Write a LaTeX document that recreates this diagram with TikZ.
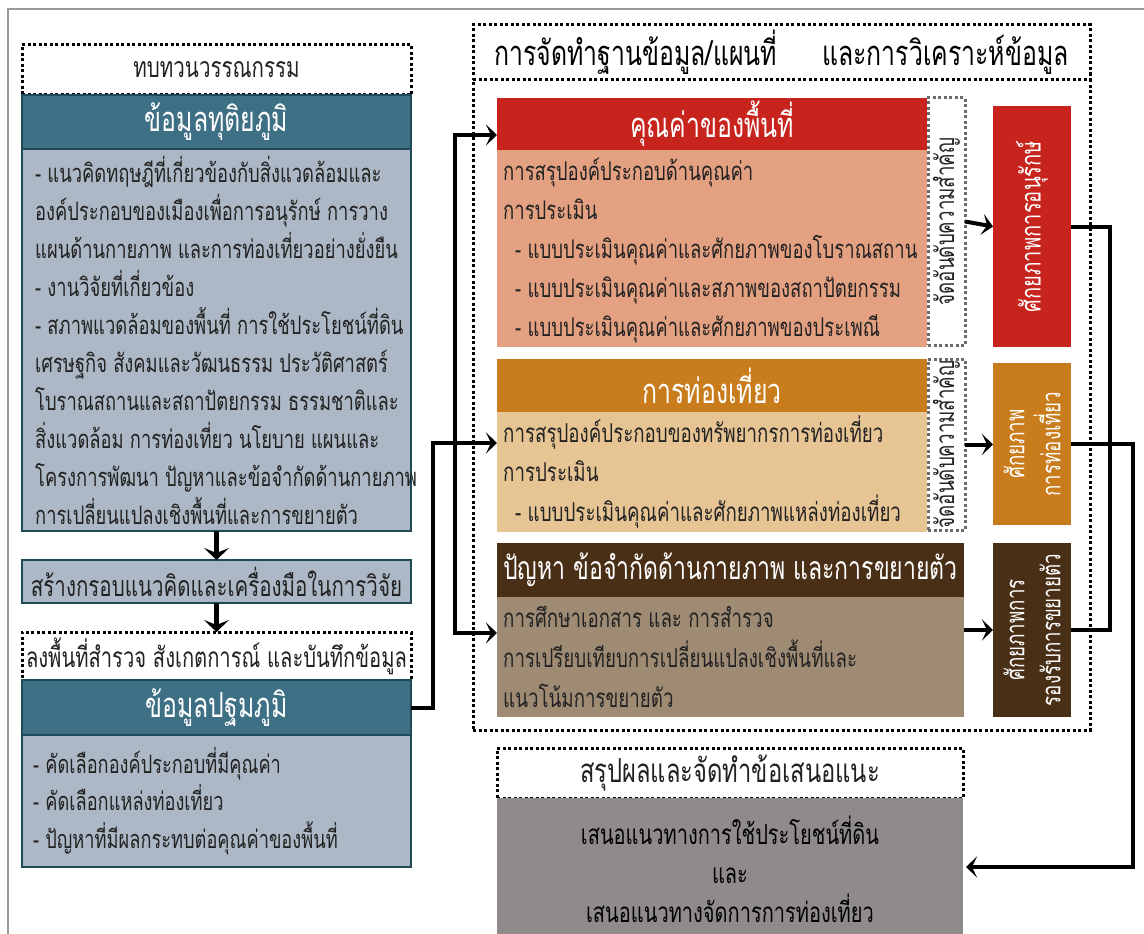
\documentclass[tikz,border=0pt]{standalone}
\usepackage{fontspec}
\newfontfamily\thai[Script=Thai,FakeStretch=0.72]{Loma}
\usetikzlibrary{arrows.meta}
\definecolor{tealhd}{HTML}{3E7085}
\definecolor{tealdk}{HTML}{1F4A5A}
\definecolor{bluebg}{HTML}{ACB8C5}
\definecolor{redhd}{HTML}{C8241E}
\definecolor{redbg}{HTML}{E4A182}
\definecolor{orhd}{HTML}{C97C1B}
\definecolor{orbg}{HTML}{E6C493}
\definecolor{brhd}{HTML}{4A2F17}
\definecolor{brbg}{HTML}{9F8B74}
\definecolor{graybg}{HTML}{8F8B8B}
\definecolor{txt}{HTML}{222222}
\definecolor{framegray}{HTML}{9A9A9A}
\definecolor{dotgray}{HTML}{6A6A6A}
\begin{document}
\begin{tikzpicture}[x=1pt,y=-1pt,
  box/.style={anchor=north west, inner sep=0pt, outer sep=0pt},
  dotbox/.style={box, draw=black, line width=3pt, dash pattern=on 3pt off 2.5pt},
  graydot/.style={box, draw=dotgray, line width=3pt, dash pattern=on 3pt off 2.5pt},
  hdr/.style={box, text=white, font=\thai\fontsize{34.5}{40}\selectfont},
  bodytxt/.style={anchor=west, inner sep=0pt, text=txt, align=left, font=\thai\fontsize{25.5}{38}\selectfont},
  plain/.style={text=txt, inner sep=0pt, font=\thai\fontsize{28.5}{34}\selectfont},
  rot/.style={rotate=90, align=center, inner sep=0pt, font=\thai\fontsize{26}{36}\selectfont},
  conn/.style={draw=black, line width=4pt},
  tip/.style={-{Stealth[length=11pt,width=21pt,inset=5pt]}},
  downarr/.style={draw=black, line width=5pt, -{Stealth[length=12pt,width=25pt,inset=5pt]}}
]
\useasboundingbox (0,0) rectangle (1144,934);
\fill[white] (0,0) rectangle (1144,934);
\draw[framegray, line width=1.5pt] (8,934) -- (8,9) -- (1144,9);

% ---------- left column ----------
\node[dotbox, minimum width=389pt, minimum height=50pt] (lit) at (22,45) {};
\node[plain] (litt) at (lit.center) {ทบทวนวรรณกรรม};
\node[hdr, fill=tealhd, draw=tealdk, line width=2pt, minimum width=389pt, minimum height=54pt] (sechead) at (22,95) {ข้อมูลทุติยภูมิ};
\node[box, fill=bluebg, draw=tealdk, line width=2pt, minimum width=389pt, minimum height=382pt] (secbody) at (22,149) {};
\node[bodytxt] (secbodyt) at ([xshift=13pt]secbody.west) {%
- แนวคิดทฤษฎีที่เกี่ยวข้องกับสิ่งแวดล้อมและ\\
องค์ประกอบของเมืองเพื่อการอนุรักษ์ การวาง\\
แผนด้านกายภาพ และการท่องเที่ยวอย่างยั่งยืน\\
- งานวิจัยที่เกี่ยวข้อง\\
- สภาพแวดล้อมของพื้นที่ การใช้ประโยชน์ที่ดิน\\
เศรษฐกิจ สังคมและวัฒนธรรม ประวัติศาสตร์\\
โบราณสถานและสถาปัตยกรรม ธรรมชาติและ\\
สิ่งแวดล้อม การท่องเที่ยว นโยบาย แผนและ\\
โครงการพัฒนา ปัญหาและข้อจำกัดด้านกายภาพ\\
การเปลี่ยนแปลงเชิงพื้นที่และการขยายตัว};
\node[box, fill=bluebg, draw=tealdk, line width=2pt, minimum width=389pt, minimum height=43pt] (frame) at (22,560) {};
\node[plain] (framet) at (frame.center) {สร้างกรอบแนวคิดและเครื่องมือในการวิจัย};
\node[dotbox, minimum width=389pt, minimum height=48pt] (field) at (22,632) {};
\node[plain, font=\thai\fontsize{28}{34}\selectfont] (fieldt) at (field.center) {ลงพื้นที่สำรวจ สังเกตการณ์ และบันทึกข้อมูล};
\node[hdr, fill=tealhd, draw=tealdk, line width=2pt, minimum width=389pt, minimum height=55pt] (prihead) at (22,680) {ข้อมูลปฐมภูมิ};
\node[box, fill=bluebg, draw=tealdk, line width=2pt, minimum width=389pt, minimum height=132pt] (pribody) at (22,735) {};
\node[bodytxt, font=\thai\fontsize{25.3}{37.5}\selectfont] (pribodyt) at ([xshift=11pt]pribody.west) {%
- คัดเลือกองค์ประกอบที่มีคุณค่า\\
- คัดเลือกแหล่งท่องเที่ยว\\
- ปัญหาที่มีผลกระทบต่อคุณค่าของพื้นที่};

\draw[downarr] (secbody.south) -- (frame.north);
\draw[downarr] (frame.south) -- (field.north);

% ---------- right block ----------
\node[dotbox, minimum width=617pt, minimum height=650pt] (big) at (473,80) {};
\node[dotbox, minimum width=617pt, minimum height=55pt] (title) at (473,25) {};
\node[plain, font=\thai\fontsize{34.5}{40}\selectfont, text=black] (titlet) at (title.center) {การจัดทำฐานข้อมูล/แผนที่\hspace{45pt}และการวิเคราะห์ข้อมูล};

\node[hdr, fill=redhd, minimum width=430pt, minimum height=52pt] (valhead) at (497,98) {คุณค่าของพื้นที่};
\node[box, fill=redbg, minimum width=430pt, minimum height=197pt] (valbody) at (497,150) {};
\node[bodytxt, font=\thai\fontsize{25.7}{39}\selectfont] (valbodyt) at ([xshift=6pt,yshift=-2pt]valbody.west) {%
การสรุปองค์ประกอบด้านคุณค่า\\
การประเมิน\\
\hspace*{12pt}- แบบประเมินคุณค่าและศักยภาพของโบราณสถาน\\
\hspace*{12pt}- แบบประเมินคุณค่าและสภาพของสถาปัตยกรรม\\
\hspace*{12pt}- แบบประเมินคุณค่าและศักยภาพของประเพณี};
\node[graydot, minimum width=37pt, minimum height=247pt] (rank1) at (928,98) {};
\node[rot, text=txt] (rank1t) at (rank1.center) {จัดอันดับความสำคัญ};
\node[box, fill=redhd, minimum width=78pt, minimum height=241pt] (cons) at (993,106) {};
\node[rot, text=white, font=\thai\fontsize{28}{36}\selectfont] (const) at (cons.center) {ศักยภาพการอนุรักษ์};

\node[hdr, fill=orhd, minimum width=430pt, minimum height=53pt] (tourhead) at (497,359) {การท่องเที่ยว};
\node[box, fill=orbg, minimum width=430pt, minimum height=120pt] (tourbody) at (497,412) {};
\node[bodytxt, font=\thai\fontsize{26}{39.5}\selectfont] (tourbodyt) at ([xshift=6pt]tourbody.west) {%
การสรุปองค์ประกอบของทรัพยากรการท่องเที่ยว\\
การประเมิน\\
\hspace*{12pt}- แบบประเมินคุณค่าและศักยภาพแหล่งท่องเที่ยว};
\node[graydot, minimum width=37pt, minimum height=171pt] (rank2) at (928,359) {};
\node[rot, text=txt] (rank2t) at (rank2.center) {จัดอันดับความสำคัญ};
\node[box, fill=orhd, minimum width=78pt, minimum height=162pt] (tourpot) at (993,363) {};
\node[rot, text=white] (tourpott) at (tourpot.center) {ศักยภาพ\\การท่องเที่ยว};

\node[hdr, fill=brhd, minimum width=467pt, minimum height=54pt, font=\thai\fontsize{32}{40}\selectfont] (probhead) at (497,543) {ปัญหา ข้อจำกัดด้านกายภาพ และการขยายตัว};
\node[box, fill=brbg, minimum width=467pt, minimum height=120pt] (probbody) at (497,597) {};
\node[bodytxt, font=\thai\fontsize{26}{40}\selectfont] (probbodyt) at ([xshift=6pt]probbody.west) {%
การศึกษาเอกสาร และ การสำรวจ\\
การเปรียบเทียบการเปลี่ยนแปลงเชิงพื้นที่และ\\
แนวโน้มการขยายตัว};
\node[box, fill=brhd, minimum width=78pt, minimum height=174pt] (growpot) at (993,543) {};
\node[rot, text=white] (growpott) at (growpot.center) {ศักยภาพการ\\รองรับการขยายตัว};

% ---------- conclusion ----------
\node[dotbox, minimum width=466pt, minimum height=50pt] (conchead) at (497,748) {};
\node[plain, font=\thai\fontsize{33}{38}\selectfont] (concheadt) at (conchead.center) {สรุปผลและจัดทำข้อเสนอแนะ};
\node[box, fill=graybg, minimum width=466pt, minimum height=142pt] (concbody) at (497,798) {};
\node[align=center, inner sep=0pt, text=black, font=\thai\fontsize{27.8}{39}\selectfont] (concbodyt) at (concbody.center) {%
เสนอแนวทางการใช้ประโยชน์ที่ดิน\\
และ\\
เสนอแนวทางจัดการการท่องเที่ยว};

% ---------- connectors ----------
\coordinate (ja) at (433,443);
\coordinate (jt) at (455,135);
\coordinate (jb) at (455,633);
\draw[conn, tip] (prihead.east) -| (ja) -- (tourbody.west |- ja);
\draw[conn, tip] (jt |- ja) -- (jt) -- (valhead.west |- jt);
\draw[conn, tip] (jt |- ja) -- (jb) -- (probbody.west |- jb);

\draw[conn, tip] (rank1.east) -- (cons.west);
\draw[conn, tip] (rank2.east) -- (tourpot.west |- rank2.east);
\draw[conn, tip] (growpot.west -| probbody.east) -- (growpot.west);

\coordinate (r1) at (1110,222);
\coordinate (r2) at (1133,867);
\draw[conn] (cons.east) -- (cons.east -| r1) -- (growpot.east -| r1) -- (growpot.east);
\draw[conn, tip, shorten >=3pt] (tourpot.east) -| (r2) -- (r2 -| concbody.east);
\end{tikzpicture}
\end{document}
